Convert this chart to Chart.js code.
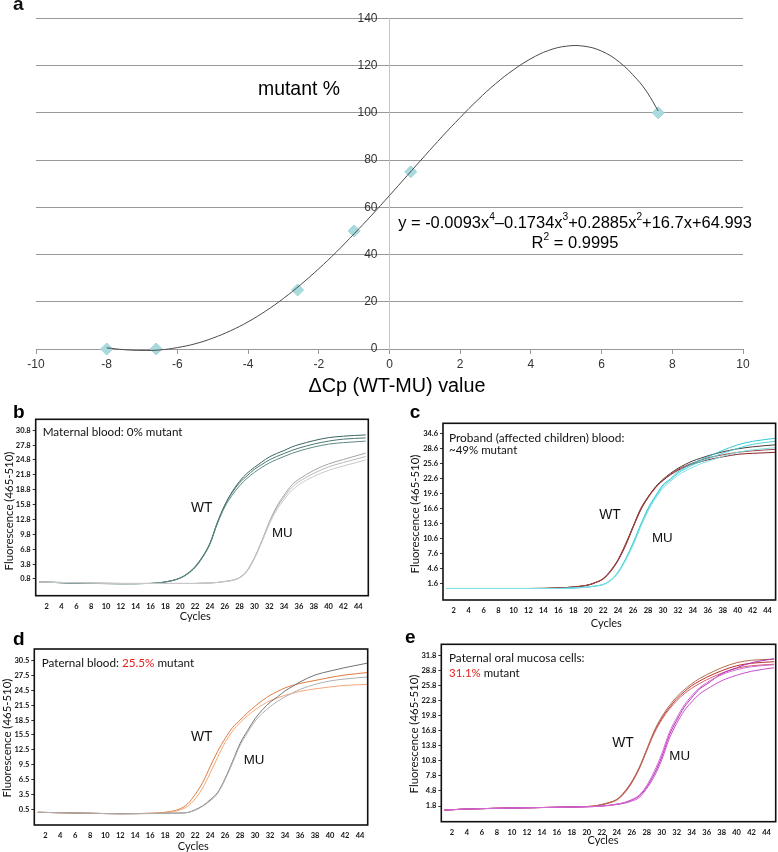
<!DOCTYPE html>
<html>
<head>
<meta charset="utf-8">
<script src="https://cdn.jsdelivr.net/npm/chart.js@4.4.1/dist/chart.umd.min.js"></script>
<style>
  body { margin: 0; background: #fff; }
  #wrap { position: relative; width: 778px; height: 852px; }
  #wrap canvas { position: absolute; left: 0; top: 0; }
</style>
</head>
<body>
<div id="wrap">
  <canvas id="chartA" width="778" height="852"></canvas>
  <canvas id="chartB" width="778" height="852"></canvas>
  <canvas id="chartC" width="778" height="852"></canvas>
  <canvas id="chartD" width="778" height="852"></canvas>
  <canvas id="chartE" width="778" height="852"></canvas>
</div>
<script>
/* panel a: standard curve */
var stdX = [-8, -6.6, -2.6, -1, 0.6, 7.6];
var stdY = [0, 0, 25, 50, 75, 100];
var trendX = [-8, -7.5, -7, -6.5, -6, -5.5, -5, -4.5, -4, -3.5, -3, -2.5, -2, -1.5, -1, -0.5, 0,
              0.5, 1, 1.5, 2, 2.5, 3, 3.5, 4, 4.5, 5, 5.5, 6, 6.5, 7, 7.3, 7.6];
var trendY = [0.5, -0.3, -0.6, -0.4, 0.6, 2.2, 4.6, 7.7, 11.5, 16.1, 21.4, 27.4, 34.0, 41.1, 48.8, 56.7, 65.0,
              73.4, 81.8, 90.1, 98.0, 105.5, 112.3, 118.1, 122.9, 126.4, 128.2, 128.2, 126.1, 121.5, 114.2, 108.4, 100.8];

/* panels b-e: amplification curves, fluorescence at these cycles */
var cycles = [1, 4, 8, 12, 16, 18, 20, 21, 22, 23, 24, 25, 26, 27, 28, 29, 30, 31, 32, 33, 34, 35, 36, 38, 40, 42, 45];
var cycleTicks = [2, 4, 6, 8, 10, 12, 14, 16, 18, 20, 22, 24, 26, 28, 30, 32, 34, 36, 38, 40, 42, 44];

// b: maternal blood
var bWT1 = [0.2, 0.05, -0.1, -0.15, -0.1, 0.2, 1.0, 1.9, 3.3, 5.3, 8.0, 12.2, 15.7, 18.4, 20.5, 22.1, 23.3, 24.4, 25.4, 26.1, 26.7, 27.4, 27.9, 28.7, 29.3, 29.6, 29.85];
var bWT2 = [0.2, 0.05, -0.1, -0.15, -0.1, 0.2, 1.0, 1.9, 3.2, 5.2, 7.9, 12.1, 15.6, 18.2, 20.2, 21.6, 22.9, 23.9, 24.8, 25.5, 26.1, 26.7, 27.2, 28.0, 28.6, 29.0, 29.25];
var bWT3 = [0.2, 0.05, -0.1, -0.15, -0.1, 0.2, 1.0, 1.8, 3.1, 5.1, 7.8, 11.9, 15.3, 17.7, 19.6, 21.1, 22.3, 23.3, 24.2, 24.9, 25.5, 26.1, 26.6, 27.4, 28.0, 28.3, 28.6];
var bMU1 = [0.2, 0.1, 0.0, -0.1, -0.1, -0.1, -0.1, -0.1, -0.1, -0.05, 0.0, 0.1, 0.3, 0.55, 1.1, 2.5, 5.1, 8.5, 12.3, 15.4, 17.7, 19.7, 20.9, 22.7, 24.0, 24.9, 26.2];
var bMU2 = [0.2, 0.1, 0.0, -0.1, -0.1, -0.1, -0.1, -0.1, -0.1, -0.05, 0.0, 0.1, 0.3, 0.5, 1.1, 2.4, 5.0, 8.4, 12.1, 15.1, 17.3, 19.2, 20.4, 22.1, 23.4, 24.3, 25.5];
var bMU3 = [0.2, 0.1, 0.0, -0.1, -0.1, -0.1, -0.1, -0.1, -0.1, -0.05, 0.0, 0.1, 0.25, 0.5, 1.0, 2.3, 4.9, 8.2, 11.8, 14.7, 16.8, 18.6, 19.8, 21.5, 22.7, 23.6, 24.8];
var bTicks = [0.8, 3.8, 6.8, 9.8, 12.8, 15.8, 18.8, 21.8, 24.8, 27.8, 30.8];
var bLabels = ['0.8', '3.8', '6.8', '9.8', '12.8', '15.8', '18.8', '21.8', '24.8', '27.8', '30.8'];

// c: proband blood
var cWT1 = [0.7, 0.7, 0.7, 0.7, 0.8, 1.0, 1.4, 1.9, 2.6, 4.1, 6.3, 9.3, 12.9, 16.3, 18.9, 21.0, 22.5, 23.7, 24.7, 25.5, 26.2, 26.7, 27.2, 28.0, 28.6, 29.0, 29.4];
var cWT2 = [0.7, 0.7, 0.7, 0.7, 0.8, 1.0, 1.4, 1.9, 2.7, 4.3, 6.5, 9.6, 13.1, 16.6, 19.0, 20.9, 22.3, 23.4, 24.3, 25.0, 25.6, 26.0, 26.4, 27.0, 27.5, 27.7, 27.9];
var cWT3 = [0.7, 0.7, 0.7, 0.7, 0.8, 1.0, 1.4, 1.9, 2.6, 4.2, 6.4, 9.4, 13.0, 16.4, 18.8, 20.8, 22.3, 23.5, 24.5, 25.2, 25.8, 26.3, 26.8, 27.4, 27.9, 28.2, 28.5];
var cMU1 = [0.7, 0.7, 0.7, 0.7, 0.7, 0.8, 1.0, 1.2, 1.5, 2.4, 4.0, 6.6, 9.8, 13.4, 16.7, 19.2, 21.4, 22.6, 24.0, 24.9, 25.7, 26.4, 27.0, 28.3, 29.4, 30.1, 30.7];
var cMU2 = [0.7, 0.7, 0.7, 0.7, 0.7, 0.8, 1.0, 1.2, 1.5, 2.3, 3.9, 6.5, 9.6, 13.2, 16.5, 19.0, 21.1, 22.4, 23.7, 24.6, 25.4, 26.0, 26.6, 27.7, 28.7, 29.5, 30.1];
var cMU3 = [0.7, 0.7, 0.7, 0.7, 0.7, 0.8, 1.0, 1.2, 1.5, 2.3, 3.8, 6.3, 9.3, 12.9, 16.1, 18.7, 20.7, 22.1, 23.3, 24.2, 24.9, 25.6, 26.1, 27.1, 27.9, 28.4, 28.8];
var cTicks = [1.6, 4.6, 7.6, 10.6, 13.6, 16.6, 19.6, 22.6, 25.6, 28.6, 31.6];
var cLabels = ['1.6', '4.6', '7.6', '10.6', '13.6', '16.6', '19.6', '22.6', '25.6', '28.6', '34.6'];

// d: paternal blood
var dWT1 = [-0.1, -0.2, -0.3, -0.4, -0.3, -0.1, 0.6, 1.6, 3.5, 5.9, 9.1, 12.2, 14.8, 17.0, 18.5, 20.0, 21.3, 22.5, 23.5, 24.3, 25.0, 25.5, 25.9, 26.5, 27.1, 27.6, 28.1];
var dWT2 = [-0.1, -0.2, -0.3, -0.4, -0.3, -0.15, 0.4, 1.1, 2.6, 4.8, 7.8, 11.0, 14.0, 16.3, 18.0, 19.4, 20.6, 21.6, 22.4, 23.0, 23.5, 23.9, 24.3, 24.8, 25.2, 25.5, 25.7];
var dMU1 = [-0.1, -0.2, -0.3, -0.4, -0.35, -0.3, -0.25, -0.15, 0.4, 1.2, 2.4, 3.9, 6.7, 10.2, 13.8, 16.4, 18.8, 20.6, 22.1, 23.2, 24.4, 25.3, 26.2, 27.6, 28.4, 29.1, 30.0];
var dMU2 = [-0.1, -0.2, -0.3, -0.4, -0.35, -0.3, -0.25, -0.15, 0.3, 1.1, 2.2, 3.7, 6.5, 9.9, 13.4, 16.0, 18.3, 19.9, 21.2, 22.3, 23.2, 24.0, 24.7, 25.7, 26.4, 26.8, 27.2];
var dTicks = [0.5, 3.5, 6.5, 9.5, 12.5, 15.5, 18.5, 21.5, 24.5, 27.5, 30.5];
var dLabels = ['0.5', '3.5', '6.5', '9.5', '12.5', '15.5', '18.5', '21.5', '24.5', '27.5', '30.5'];

// e: paternal oral mucosa cells
var eWT1 = [1.0, 1.2, 1.35, 1.45, 1.55, 1.6, 1.7, 1.8, 2.1, 2.5, 3.1, 4.5, 6.6, 9.4, 13.0, 16.6, 19.3, 21.4, 23.2, 24.6, 25.8, 26.7, 27.5, 28.8, 29.8, 30.3, 30.6];
var eWT2 = [1.0, 1.2, 1.35, 1.45, 1.55, 1.6, 1.7, 1.8, 2.05, 2.4, 3.0, 4.3, 6.4, 9.2, 12.8, 16.3, 19.0, 21.1, 22.8, 24.2, 25.3, 26.2, 27.0, 28.3, 29.3, 29.8, 30.1];
var eWT3 = [1.0, 1.2, 1.35, 1.45, 1.55, 1.6, 1.7, 1.8, 2.1, 2.5, 3.1, 4.6, 6.7, 9.5, 13.1, 16.8, 19.6, 21.8, 23.6, 25.0, 26.2, 27.2, 28.0, 29.4, 30.4, 30.9, 31.1];
var eMU1 = [1.0, 1.2, 1.35, 1.45, 1.55, 1.6, 1.65, 1.7, 1.8, 1.95, 2.15, 2.45, 3.0, 3.8, 5.6, 8.2, 11.6, 15.9, 18.9, 21.5, 23.4, 25.1, 26.1, 28.2, 29.4, 30.4, 31.2];
var eMU2 = [1.0, 1.2, 1.35, 1.45, 1.55, 1.6, 1.65, 1.7, 1.8, 1.9, 2.1, 2.35, 2.8, 3.5, 5.3, 7.7, 11.0, 15.2, 18.3, 20.8, 22.6, 24.1, 25.1, 26.8, 27.9, 28.7, 29.4];
var eMU3 = [1.0, 1.2, 1.35, 1.45, 1.55, 1.6, 1.65, 1.7, 1.8, 1.95, 2.2, 2.5, 3.1, 4.0, 5.9, 8.7, 12.2, 16.4, 19.4, 21.9, 23.8, 25.3, 26.4, 28.0, 29.0, 29.6, 30.0];
var eTicks = [1.8, 4.8, 7.8, 10.8, 13.8, 16.8, 19.8, 22.8, 25.8, 28.8, 31.8];
var eLabels = ['1.8', '4.8', '7.8', '10.8', '13.8', '16.8', '19.8', '22.8', '25.8', '28.8', '31.8'];

var RED = '#e5231d';
var ARIAL = '"Liberation Sans", Arial, sans-serif';
var CAL = 'Lato, "Open Sans", sans-serif';

// draws a text item; parts = [text, colour, superscript]
function drawLabel(ctx, it) {
  var size = it.size;
  function fontOf(s) { return (it.weight || 'normal') + ' ' + s + 'px ' + it.fam; }
  function widthAt(s) {
    var w = 0;
    it.parts.forEach(function (p) { ctx.font = fontOf(p[2] ? s * 0.62 : s); w += ctx.measureText(p[0]).width; });
    return w;
  }
  if (it.w) size = size * it.w / widthAt(size);
  var total = widthAt(size);
  ctx.save();
  ctx.translate(it.x, it.y);
  if (it.rot) ctx.rotate(it.rot);
  ctx.textBaseline = it.base || 'middle';
  ctx.textAlign = 'left';
  var x = it.align === 'center' ? -total / 2 : 0;
  it.parts.forEach(function (p) {
    var s = p[2] ? size * 0.62 : size;
    ctx.font = fontOf(s);
    ctx.fillStyle = p[1] || it.color || '#111';
    ctx.fillText(p[0], x, p[2] ? -size * 0.36 : 0);
    x += ctx.measureText(p[0]).width;
  });
  ctx.restore();
}

function textPlugin(items) {
  return { id: 'texts', afterDraw: function (chart) { items.forEach(function (it) { drawLabel(chart.ctx, it); }); } };
}

var framePlugin = {
  id: 'frame',
  afterDraw: function (chart) {
    var a = chart.chartArea, c = chart.ctx;
    c.save();
    c.strokeStyle = '#111';
    c.lineWidth = 1.6;
    c.strokeRect(a.left, a.top, a.right - a.left, a.bottom - a.top);
    c.restore();
  }
};

/* ---- panel a ---- */
new Chart(document.getElementById('chartA'), {
  type: 'scatter',
  data: {
    datasets: [{
      type: 'line',
      data: trendX.map(function (x, i) { return { x: x, y: trendY[i] }; }),
      borderColor: '#4a4a4a', borderWidth: 1, pointRadius: 0, tension: 0.4, fill: false, clip: false
    }, {
      data: stdX.map(function (x, i) { return { x: x, y: stdY[i] }; }),
      pointStyle: 'rectRot', pointRadius: 6, backgroundColor: '#a9dade', borderColor: '#9fd3d8', borderWidth: 1, clip: false
    }]
  },
  options: {
    responsive: false, animation: false, events: [],
    layout: { padding: { left: 36, right: 35, top: 18.3, bottom: 481 } },
    plugins: { legend: { display: false }, tooltip: { enabled: false } },
    scales: {
      x: {
        type: 'linear', min: -10, max: 10,
        afterFit: function (s) { s.height = 22; },
        ticks: { stepSize: 2, padding: 3, color: '#333', font: { family: ARIAL, size: 12 } },
        grid: { drawOnChartArea: false, drawTicks: true, tickLength: 5, color: '#999' },
        border: { color: '#999' }
      },
      y: {
        type: 'linear', min: 0, max: 140, position: { x: 0 },
        afterFit: function (s) { s.width = 0; },
        // the axis sits at x = 0, keep the labels clear of it
        ticks: { stepSize: 20, color: '#333', font: { family: ARIAL, size: 12 },
                 callback: function (v) { return v + '\u2002\u2002'; } },
        grid: { color: '#999', drawTicks: false },
        border: { color: '#c4c4c4' }
      }
    }
  },
  plugins: [textPlugin([
    { parts: [['a']], x: 13, y: 10, size: 19, weight: 'bold', fam: ARIAL, base: 'alphabetic' },
    { parts: [['mutant %']], x: 299, y: 90, size: 19, fam: ARIAL, align: 'center', w: 82, color: '#000' },
    { parts: [['y = -0.0093x'], ['4', null, 1], ['\u20130.1734x'], ['3', null, 1], ['+0.2885x'], ['2', null, 1], ['+16.7x+64.993']],
      x: 575, y: 223, size: 16, fam: ARIAL, align: 'center', w: 354, color: '#000' },
    { parts: [['R'], ['2', null, 1], [' = 0.9995']], x: 575, y: 243, size: 16, fam: ARIAL, align: 'center', w: 87, color: '#000' },
    { parts: [['\u0394Cp (WT-MU) value']], x: 397, y: 387, size: 21, fam: ARIAL, align: 'center', w: 177, color: '#000' }
  ])]
});

/* ---- panels b-e ---- */
// area = [left, top, right, bottom] of the plot frame on the page; range = [xmin, xmax, ymin, ymax]
function pcrPanel(id, area, range, yTicks, yLabels, lines, texts) {
  var tickFont = { family: CAL, size: 7.5, weight: 'bold' };
  new Chart(document.getElementById(id), {
    type: 'line',
    data: {
      datasets: lines.map(function (l) {
        return {
          data: cycles.map(function (c, i) { return { x: c, y: l[0][i] }; }),
          borderColor: l[1], borderWidth: 1, pointRadius: 0,
          cubicInterpolationMode: 'monotone', fill: false
        };
      })
    },
    options: {
      responsive: false, animation: false, events: [],
      layout: { padding: { left: 0, top: area[1], right: 778 - area[2], bottom: 0 } },
      plugins: { legend: { display: false }, tooltip: { enabled: false } },
      scales: {
        x: {
          type: 'linear', min: range[0], max: range[1],
          afterBuildTicks: function (s) { s.ticks = cycleTicks.map(function (v) { return { value: v }; }); },
          afterFit: function (s) { s.height = 852 - area[3]; },
          grid: { display: false, drawTicks: false },
          border: { display: false },
          ticks: { autoSkip: false, maxRotation: 0, padding: 6, color: '#111', font: tickFont }
        },
        y: {
          type: 'linear', min: range[2], max: range[3],
          afterBuildTicks: function (s) { s.ticks = yTicks.map(function (v) { return { value: v }; }); },
          afterFit: function (s) { s.width = area[0]; },
          grid: { drawOnChartArea: false, drawTicks: true, tickLength: 3, color: '#333' },
          border: { display: false },
          ticks: { autoSkip: false, padding: 2, color: '#111', font: tickFont,
                   callback: function (v, i) { return yLabels[i]; } }
        }
      }
    },
    plugins: [framePlugin, textPlugin(texts)]
  });
}

function panelTexts(letter, lx, ly, notes, wt, mu, cyc, ylab) {
  var t = [{ parts: [[letter]], x: lx, y: ly, size: 19, weight: 'bold', fam: ARIAL, base: 'alphabetic', color: '#000' }];
  notes.forEach(function (n) { t.push({ parts: n[3], x: n[0], y: n[1], size: 12, fam: CAL, w: n[2] }); });
  t.push({ parts: [['WT']], x: wt[0], y: wt[1], size: 13.5, fam: ARIAL, align: 'center', w: 21.5 });
  t.push({ parts: [['MU']], x: mu[0], y: mu[1], size: 13.5, fam: ARIAL, align: 'center', w: 20.7 });
  t.push({ parts: [['Cycles']], x: cyc[0], y: cyc[1], size: 12, fam: CAL, align: 'center', w: 31 });
  t.push({ parts: [['Fluorescence (465-510)']], x: ylab[0], y: ylab[1], size: 11, fam: CAL, align: 'center', w: 119, rot: -Math.PI / 2 });
  return t;
}

pcrPanel('chartB', [35.7, 419.3, 368.3, 595.7], [0.52, 45.35, -2.57, 33.0], bTicks, bLabels,
  [[bMU3, '#c9c9c9'], [bMU2, '#b8b8b8'], [bMU1, '#a2a2a2'],
   [bWT3, '#5d8985'], [bWT2, '#4b7773'], [bWT1, '#3a6562']],
  panelTexts('b', 13, 418, [[42.7, 432.3, 140, [['Maternal blood: 0% mutant']]]],
    [201.7, 508.3], [282.3, 533.3], [195.3, 616.7], [9, 511]));

pcrPanel('chartC', [443, 423.3, 776, 600], [0.57, 45.07, -1.6, 33.7], cTicks, cLabels,
  [[cMU3, '#7fe0e6'], [cMU2, '#4fd4dc'], [cMU1, '#2fc9d3'],
   [cWT3, '#a34444'], [cWT2, '#8a2323'], [cWT1, '#4a3a3a']],
  panelTexts('c', 409.7, 418.3, [[449, 438.3, 175.7, [['Proband (affected children) blood:']]],
                                  [449, 450, 68.3, [['~49% mutant']]]],
    [610, 515], [662.3, 538.3], [606.3, 623], [415.5, 514]));

pcrPanel('chartD', [34.3, 649, 367.7, 825], [0.53, 45.03, -2.67, 32.85], dTicks, dLabels,
  [[dMU2, '#b0b0b0'], [dMU1, '#747474'], [dWT2, '#f2a77a'], [dWT1, '#e07a3e']],
  panelTexts('d', 13, 645, [[41.7, 663.3, 152.7, [['Paternal blood: '], ['25.5%', RED], [' mutant']]]],
    [201.7, 736.7], [254, 760.7], [193.3, 846.7], [7.5, 738]));

pcrPanel('chartE', [441.3, 644.3, 775.7, 821.7], [0.57, 45.22, -1.33, 34.08], eTicks, eLabels,
  [[eMU3, '#d36ad3'], [eMU2, '#c94fc9'], [eMU1, '#b62fb8'],
   [eWT3, '#b0704f'], [eWT2, '#d0606a'], [eWT1, '#b8302a']],
  panelTexts('e', 405, 643, [[449, 658.3, 135.7, [['Paternal oral mucosa cells:']]],
                              [449, 673.3, 70.7, [['31.1%', RED], [' mutant']]]],
    [623, 743.3], [679.7, 756.7], [603, 840.7], [414.7, 734]));
</script>
</body>
</html>
